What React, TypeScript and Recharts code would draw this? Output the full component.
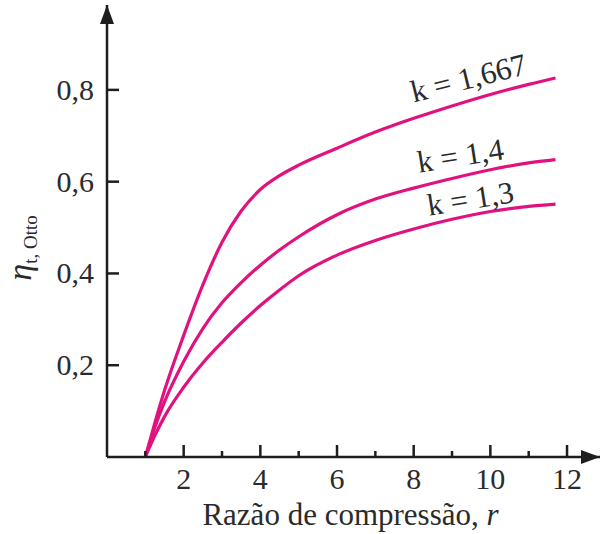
import React from "react";
import { LineChart, Line, XAxis, YAxis, ReferenceDot } from "recharts";

// Compression ratio r
const rValues = [1, 1.25, 1.5, 2, 2.5, 3, 3.5, 4, 4.5, 5, 6, 7, 8, 9, 10, 11, 11.7];
// Thermal efficiency for each k
const effK1667 = [0, 0.075, 0.145, 0.265, 0.375, 0.468, 0.536, 0.583, 0.613, 0.636, 0.673, 0.708, 0.738, 0.765, 0.79, 0.812, 0.826];
const effK14 = [0, 0.065, 0.12, 0.208, 0.28, 0.336, 0.38, 0.418, 0.451, 0.48, 0.528, 0.562, 0.586, 0.607, 0.626, 0.641, 0.648];
const effK13 = [0, 0.047, 0.088, 0.152, 0.205, 0.25, 0.292, 0.33, 0.364, 0.395, 0.44, 0.472, 0.497, 0.518, 0.535, 0.546, 0.551];

const xTicks = [1, 2, 3, 4, 5, 6, 7, 8, 9, 10, 11, 12];
const yTicks = [0.2, 0.4, 0.6, 0.8];
const yTickLabels = ["0,2", "0,4", "0,6", "0,8"];

const curveLabels = [
  { text: "k = 1,667", r: 9.43, eff: 0.826, angle: -14 },
  { text: "k = 1,4", r: 9.22, eff: 0.657, angle: -9 },
  { text: "k = 1,3", r: 9.48, eff: 0.563, angle: -9 },
];

const X_MAX = 12.86;
const Y_MAX = 0.985;

const data = rValues.map((r, i) => ({
  r,
  k1667: effK1667[i],
  k14: effK14[i],
  k13: effK13[i],
}));

const LINE = "#e1127f";
const AXIS = "#1e1e1e";
const TEXT = "#2b2b2b";
const FONT = "'Liberation Serif', 'Times New Roman', Times, serif";

const XTick = (props: any) => {
  const { x, y, payload } = props;
  const v = payload.value;
  const major = v % 2 === 0;
  return (
    <g>
      <line x1={x} x2={x} y1={y} y2={y - (major ? 12 : 6)} stroke={AXIS} strokeWidth={2.5} />
      {major && (
        <text x={x} y={y + 32} textAnchor="middle" style={{ fontFamily: FONT }} fontSize={30} fill={TEXT}>
          {v}
        </text>
      )}
    </g>
  );
};

const YTick = (props: any) => {
  const { x, y, payload } = props;
  const idx = yTicks.indexOf(payload.value);
  return (
    <g>
      <line x1={x} x2={x + 12} y1={y} y2={y} stroke={AXIS} strokeWidth={2.5} />
      <text x={x - 13} y={y + 10} textAnchor="end" style={{ fontFamily: FONT }} fontSize={30} fill={TEXT}>
        {idx >= 0 ? yTickLabels[idx] : ""}
      </text>
    </g>
  );
};

const XLabel = (props: any) => {
  const vb = props.viewBox || {};
  const cx = vb.x + vb.width / 2 - 3;
  const cy = vb.y + 68;
  return (
    <text x={cx} y={cy} textAnchor="middle" style={{ fontFamily: FONT }} fontSize={31} fill={TEXT}>
      Razão de compressão, <tspan fontStyle="italic">r</tspan>
    </text>
  );
};

const YLabel = (props: any) => {
  const vb = props.viewBox || {};
  const cx = vb.x + vb.width - 76;
  const cy = vb.y + 243;
  return (
    <text
      x={cx}
      y={cy}
      transform={`rotate(-90, ${cx}, ${cy})`}
      textAnchor="middle"
      style={{ fontFamily: FONT }}
      fontSize={34}
      fill={TEXT}
    >
      <tspan fontStyle="italic">η</tspan>
      <tspan fontSize={19} dy={6}>t, Otto</tspan>
    </text>
  );
};

const UpArrow = (props: any) => {
  const { cx, cy } = props;
  return <polygon points={`${cx},${cy} ${cx - 7},${cy + 19} ${cx + 7},${cy + 19}`} fill={AXIS} />;
};

const RightArrow = (props: any) => {
  const { cx, cy } = props;
  return <polygon points={`${cx},${cy} ${cx - 19},${cy - 7} ${cx - 19},${cy + 7}`} fill={AXIS} />;
};

const makeLabelShape = (text: string, angle: number) => (props: any) => {
  const { cx, cy } = props;
  return (
    <text
      x={cx}
      y={cy}
      transform={`rotate(${angle}, ${cx}, ${cy})`}
      textAnchor="middle"
      dominantBaseline="central"
      style={{ fontFamily: FONT }}
      fontSize={31}
      fill={TEXT}
    >
      {text}
    </text>
  );
};

export default function App() {
  return (
    <div style={{ position: "absolute", left: 0, top: 0, width: 600, height: 534, background: "#fff" }}>
      <LineChart
        width={600}
        height={534}
        data={data}
        margin={{ top: 5, right: 0, left: 0, bottom: 0 }}
      >
        <XAxis
          dataKey="r"
          type="number"
          domain={[0, X_MAX]}
          ticks={xTicks}
          interval={0}
          height={77}
          tickSize={0}
          tickMargin={0}
          tick={<XTick />}
          tickLine={false}
          axisLine={{ stroke: AXIS, strokeWidth: 2.5 }}
          allowDataOverflow
          label={<XLabel />}
        />
        <YAxis
          type="number"
          domain={[0, Y_MAX]}
          ticks={yTicks}
          interval={0}
          width={107}
          tickSize={0}
          tickMargin={0}
          tick={<YTick />}
          tickLine={false}
          axisLine={{ stroke: AXIS, strokeWidth: 2.5 }}
          allowDataOverflow
          label={<YLabel />}
        />
        <Line type="monotone" dataKey="k1667" stroke={LINE} strokeWidth={3.2} dot={false} isAnimationActive={false} />
        <Line type="monotone" dataKey="k14" stroke={LINE} strokeWidth={3.2} dot={false} isAnimationActive={false} />
        <Line type="monotone" dataKey="k13" stroke={LINE} strokeWidth={3.2} dot={false} isAnimationActive={false} />
        {curveLabels.map((c) => (
          <ReferenceDot
            key={c.text}
            x={c.r}
            y={c.eff}
            r={0}
            ifOverflow="visible"
            shape={makeLabelShape(c.text, c.angle)}
          />
        ))}
        <ReferenceDot x={0} y={Y_MAX} r={0} ifOverflow="visible" shape={<UpArrow />} />
        <ReferenceDot x={X_MAX} y={0} r={0} ifOverflow="visible" shape={<RightArrow />} />
      </LineChart>
    </div>
  );
}
